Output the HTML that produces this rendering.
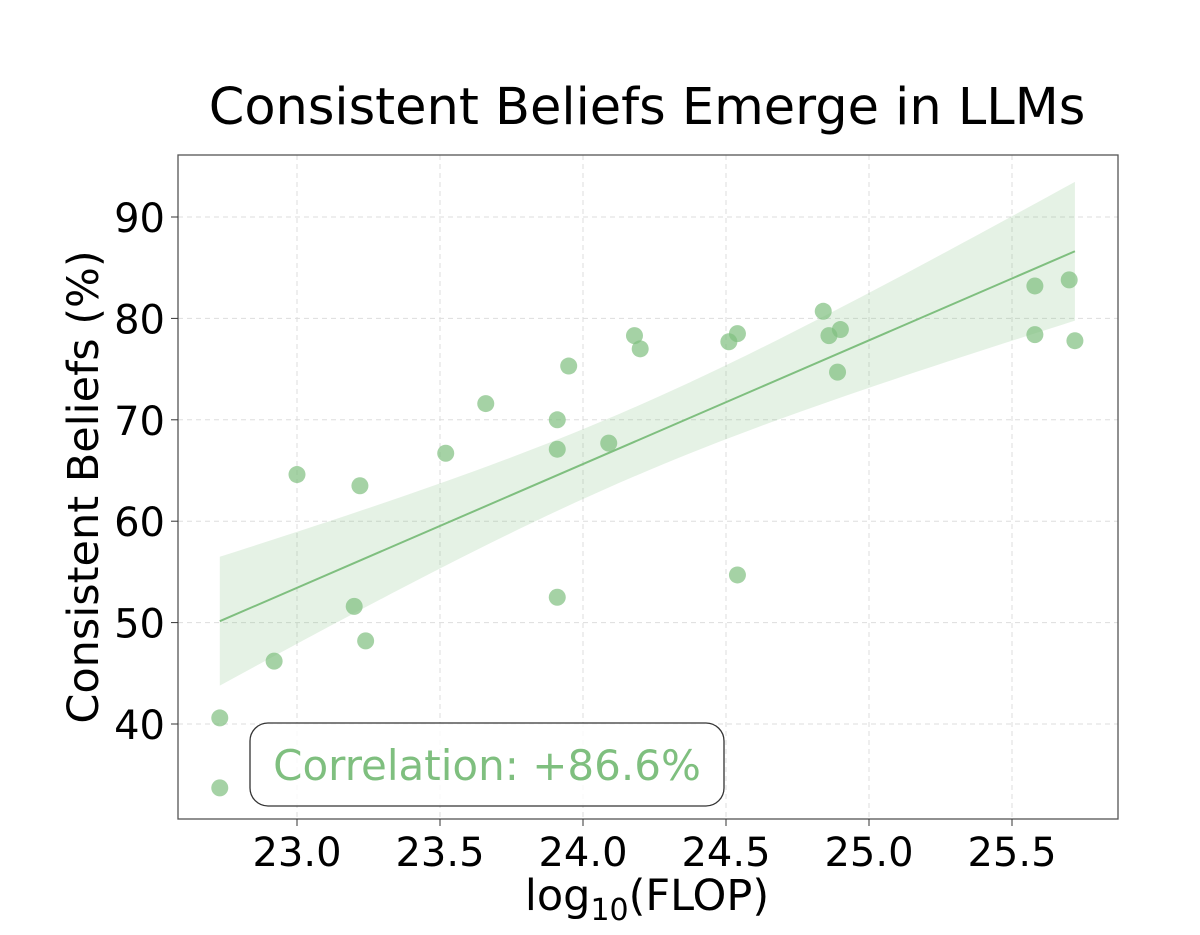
<!DOCTYPE html>
<html><head><meta charset="utf-8"><style>
body{margin:0;background:#fff;}
svg{display:block;font-family:"DejaVu Sans","Liberation Sans",sans-serif;}
</style></head><body>
<svg id="chart" width="1200" height="935" viewBox="0 0 1200 935">
<text x="647" y="124" font-size="51" text-anchor="middle" fill="#000">Consistent Beliefs Emerge in LLMs</text>
<g id="grid"></g>
<g id="band"></g>
<g id="line"></g>
<g id="pts"></g>
<rect x="178" y="155" width="940" height="664" fill="none" stroke="#555" stroke-width="1.3"/>
<g id="xt"></g>
<g id="yt"></g>
<rect x="250" y="723" width="474" height="83" rx="18" fill="#fff" fill-opacity="0.85" stroke="#333" stroke-width="1.3"/>
<text x="487" y="780" font-size="42" text-anchor="middle" fill="#7fbf7f">Correlation: +86.6%</text>
<text x="647" y="910" font-size="43" text-anchor="middle" fill="#000">log<tspan font-size="30" dy="10">10</tspan><tspan dy="-10">(FLOP)</tspan></text>
<text transform="translate(98,487) rotate(-90)" font-size="43" text-anchor="middle" fill="#000">Consistent Beliefs (%)</text>
</svg>
<script>
const xs=[22.73,22.73,22.92,23.00,23.20,23.22,23.24,23.52,23.66,23.91,23.91,23.91,23.95,24.09,24.18,24.20,24.51,24.54,24.54,24.84,24.86,24.90,24.89,25.58,25.70,25.58,25.72];
const ys=[40.6,33.7,46.2,64.6,51.6,63.5,48.2,66.7,71.6,70.0,67.1,52.5,75.3,67.7,78.3,77.0,77.7,78.5,54.7,80.7,78.3,78.9,74.7,83.2,83.8,78.4,77.8];
const xTicks=[23.0,23.5,24.0,24.5,25.0,25.5];
const yTicks=[40,50,60,70,80,90];
const NS="http://www.w3.org/2000/svg";
const X=v=>297+(v-23)*286;
const Y=v=>217+(90-v)*10.14;
function mk(t,a,p){const e=document.createElementNS(NS,t);for(const k in a)e.setAttribute(k,a[k]);p.appendChild(e);return e;}
const grid=document.getElementById('grid'),xt=document.getElementById('xt'),yt=document.getElementById('yt');
xTicks.forEach(v=>{
 const g=mk('line',{x1:X(v),x2:X(v),y1:155,y2:819,stroke:'#ddd','stroke-dasharray':'5,4'},grid);
 
 
 mk('line',{x1:X(v),x2:X(v),y1:819,y2:826,stroke:'#333'},xt);
 const t=mk('text',{x:X(v),y:866,'font-size':40,'text-anchor':'middle'},xt);t.textContent=v.toFixed(1);
 
 
});
yTicks.forEach(v=>{
 const g=mk('line',{x1:178,x2:1118,y1:Y(v),y2:Y(v),stroke:'#ddd','stroke-dasharray':'5,4'},grid);
 
 
 mk('line',{x1:171,x2:178,y1:Y(v),y2:Y(v),stroke:'#333'},yt);
 const t=mk('text',{x:165,y:Y(v)+15,'font-size':40,'text-anchor':'end'},yt);t.textContent=v;
 
 
});
const n=xs.length,mx=xs.reduce((a,b)=>a+b)/n,my=ys.reduce((a,b)=>a+b)/n;
let sxx=0,sxy=0;for(let i=0;i<n;i++){sxx+=(xs[i]-mx)**2;sxy+=(xs[i]-mx)*(ys[i]-my);}
const b=sxy/sxx,a=my-b*mx;
let sse=0;for(let i=0;i<n;i++)sse+=(ys[i]-a-b*xs[i])**2;
const s=Math.sqrt(sse/(n-2)),tq=2.06;
const x0=Math.min(...xs),x1=Math.max(...xs);
let up=[],lo=[];
for(let k=0;k<=60;k++){const x=x0+(x1-x0)*k/60,yh=a+b*x,h=tq*s*Math.sqrt(1/n+(x-mx)**2/sxx);up.push(X(x)+','+Y(yh+h));lo.unshift(X(x)+','+Y(yh-h));}
const band=mk('polygon',{points:up.concat(lo).join(' '),fill:'#7fbf7f','fill-opacity':0.2},document.getElementById('band'));


const ln=mk('line',{x1:X(x0),y1:Y(a+b*x0),x2:X(x1),y2:Y(a+b*x1),stroke:'#7fbf7f','stroke-width':2},document.getElementById('line'));


const pts=document.getElementById('pts');
xs.forEach((x,i)=>{
 const c=mk('circle',{cx:X(x),cy:Y(ys[i]),r:8.5,fill:'#7fbf7f','fill-opacity':0.7},pts);
 
 
});
</script>
</body></html>
